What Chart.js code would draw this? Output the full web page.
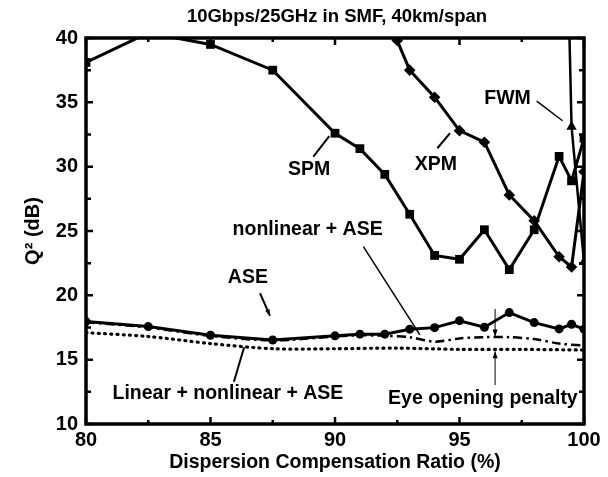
<!DOCTYPE html>
<html>
<head>
<meta charset="utf-8">
<title>Q2 vs dispersion compensation</title>
<script src="https://cdn.jsdelivr.net/npm/chart.js@4.4.1/dist/chart.umd.min.js"></script>
<style>
  html, body { margin: 0; padding: 0; background: #fff; }
  #wrap { width: 608px; height: 477px; }
</style>
</head>
<body>
<div id="wrap"><canvas id="q2Chart" width="608" height="477"></canvas></div>
<script>
// compensation ratio (%) for each simulated series
const spmRatio = [80, 82.5, 85, 87.5, 90, 91, 92, 93, 94, 95, 96, 97, 98, 99, 99.5, 100];
const spmQ2 = [38.1, 40.4, 39.5, 37.5, 32.6, 31.4, 29.4, 26.3, 23.1, 22.8, 25.1, 22.0, 25.1, 30.8, 28.9, 32.2];

const xpmRatio = [92.5, 93, 94, 95, 96, 97, 98, 99, 99.5, 100];
const xpmQ2 = [39.8, 37.5, 35.4, 32.8, 31.9, 27.8, 25.8, 23.0, 22.2, 29.6];

const fwmRatio = [99, 99.5, 100];
const fwmQ2 = [75, 33.1, 22.6];

const aseRatio = [80, 82.5, 85, 87.5, 90, 91, 92, 93, 94, 95, 96, 97, 98, 99, 99.5, 100];
const aseQ2 = [17.96, 17.57, 16.9, 16.53, 16.85, 16.98, 16.98, 17.37, 17.49, 18.03, 17.52, 18.66, 17.88, 17.39, 17.75, 17.37];

const nlAseRatio = [80, 82.5, 85, 87.5, 90, 91, 92, 93, 94, 95, 96, 97, 98, 99, 100];
const nlAseQ2 = [17.9, 17.5, 16.85, 16.5, 16.8, 16.9, 16.85, 16.75, 16.4, 16.65, 16.75, 16.75, 16.6, 16.25, 16.1];

const allRatio = [80, 82.5, 85, 87.5, 90, 92.5, 95, 97.5, 100];
const allQ2 = [17.1, 16.8, 16.25, 15.85, 15.85, 15.9, 15.8, 15.8, 15.75];

const xTickLabels = [80, 85, 90, 95, 100];
const yTickLabels = [10, 15, 20, 25, 30, 35, 40];

const FONT = '"Liberation Sans", Arial, sans-serif';

// callouts in data units: text position, then leader line from -> to
const callouts = [
  { text: 'SPM', at: [88.96, 29.74], from: [89.13, 30.78], to: [89.77, 32.38] },
  { text: 'XPM', at: [94.05, 30.13], from: [94.11, 31.43], to: [94.62, 32.6] },
  { text: 'FWM', at: [96.93, 35.26], from: [98.1, 35.1], to: [99.14, 33.57], thin: true },
  { text: 'nonlinear + ASE', at: [88.9, 25.08], from: [91.14, 23.78], to: [93.41, 16.92], thin: true },
  { text: 'ASE', at: [86.5, 21.39], from: [86.99, 20.16], to: [87.39, 18.4], arrow: true },
  { text: 'Linear + nonlinear + ASE', at: [85.7, 12.33], from: [85.94, 13.29], to: [86.35, 15.96] },
  { text: 'Eye opening penalty', at: [95.94, 11.94] }
];

const pairs = (xs, ys) => xs.map((x, i) => ({ x, y: ys[i] }));

const frameAndNotes = {
  id: 'frameAndNotes',
  afterDatasetsDraw(chart) {
    const { ctx, chartArea: a, scales: { x, y } } = chart;
    ctx.save();

    // minor/major ticks pointing inward on all four sides
    ctx.strokeStyle = '#000';
    ctx.lineWidth = 2.5;
    for (let v = 80; v <= 100; v += 2.5) {
      const px = x.getPixelForValue(v);
      const len = v % 5 === 0 ? 7 : 4;
      ctx.beginPath();
      ctx.moveTo(px, a.bottom); ctx.lineTo(px, a.bottom - len);
      ctx.moveTo(px, a.top); ctx.lineTo(px, a.top + len);
      ctx.stroke();
    }
    for (let v = 10; v <= 40; v += 2.5) {
      const py = y.getPixelForValue(v);
      const len = v % 5 === 0 ? 7 : 5;
      ctx.beginPath();
      ctx.moveTo(a.left, py); ctx.lineTo(a.left + len, py);
      ctx.moveTo(a.right, py); ctx.lineTo(a.right - len, py);
      ctx.stroke();
    }

    // plot frame
    ctx.lineWidth = 3.5;
    ctx.strokeRect(a.left, a.top, a.right - a.left, a.bottom - a.top);

    // callout labels and leader lines
    ctx.fillStyle = '#000';
    ctx.font = 'bold 19.5px ' + FONT;
    ctx.textAlign = 'center';
    ctx.textBaseline = 'middle';
    callouts.forEach(c => {
      ctx.fillText(c.text, x.getPixelForValue(c.at[0]), y.getPixelForValue(c.at[1]));
      if (!c.from) return;
      const x0 = x.getPixelForValue(c.from[0]), y0 = y.getPixelForValue(c.from[1]);
      const x1 = x.getPixelForValue(c.to[0]), y1 = y.getPixelForValue(c.to[1]);
      ctx.lineWidth = c.thin ? 1.5 : 2;
      ctx.beginPath();
      ctx.moveTo(x0, y0); ctx.lineTo(x1, y1);
      ctx.stroke();
      if (c.arrow) {
        const ang = Math.atan2(y1 - y0, x1 - x0);
        ctx.beginPath();
        ctx.moveTo(x1, y1);
        ctx.lineTo(x1 - 7 * Math.cos(ang - 0.35), y1 - 7 * Math.sin(ang - 0.35));
        ctx.lineTo(x1 - 7 * Math.cos(ang + 0.35), y1 - 7 * Math.sin(ang + 0.35));
        ctx.closePath();
        ctx.fill();
      }
    });

    // eye opening penalty marker between the dash-dot and dotted curves
    const ex = x.getPixelForValue(96.43);
    const eTop = y.getPixelForValue(18.94), eBot = y.getPixelForValue(13.03);
    const tipA = y.getPixelForValue(16.8), tipB = y.getPixelForValue(15.65);
    ctx.lineWidth = 1;
    ctx.beginPath();
    ctx.moveTo(ex, eTop); ctx.lineTo(ex, tipA);
    ctx.moveTo(ex, tipB); ctx.lineTo(ex, eBot);
    ctx.stroke();
    [[tipA, -1], [tipB, 1]].forEach(([ty, dir]) => {
      ctx.beginPath();
      ctx.moveTo(ex, ty);
      ctx.lineTo(ex - 2.5, ty + dir * 7);
      ctx.lineTo(ex + 2.5, ty + dir * 7);
      ctx.closePath();
      ctx.fill();
    });

    // chart heading
    ctx.font = 'bold 18.5px ' + FONT;
    ctx.fillText('10Gbps/25GHz in SMF, 40km/span', (a.left + a.right) / 2 + 2, 17);
    ctx.restore();
  }
};

const solid = (label, xs, ys, style, radius, width) => ({
  label,
  data: pairs(xs, ys),
  borderColor: '#000',
  backgroundColor: '#000',
  borderWidth: width,
  pointStyle: style,
  pointRadius: radius,
  pointBorderWidth: 0,
  tension: 0
});

new Chart(document.getElementById('q2Chart'), {
  type: 'line',
  data: {
    datasets: [
      solid('SPM', spmRatio, spmQ2, 'rect', 6.2, 3),
      solid('XPM', xpmRatio, xpmQ2, 'rectRot', 5.8, 3),
      solid('FWM', fwmRatio, fwmQ2, 'triangle', 6, 2.5),
      solid('ASE', aseRatio, aseQ2, 'circle', 4.5, 3),
      {
        label: 'nonlinear + ASE',
        data: pairs(nlAseRatio, nlAseQ2),
        borderColor: '#000',
        borderWidth: 2.5,
        borderDash: [9, 4, 2.5, 4],
        pointRadius: 0,
        tension: 0.3
      },
      {
        label: 'Linear + nonlinear + ASE',
        data: pairs(allRatio, allQ2),
        borderColor: '#000',
        borderWidth: 3.2,
        borderDash: [1, 5.2],
        borderCapStyle: 'round',
        pointRadius: 0,
        tension: 0.3
      }
    ]
  },
  options: {
    responsive: false,
    animation: false,
    layout: { padding: { top: 38, right: 24, left: 0, bottom: 0 } },
    plugins: { legend: { display: false }, tooltip: { enabled: false }, title: { display: false } },
    scales: {
      x: {
        type: 'linear',
        min: 80,
        max: 100,
        afterBuildTicks: s => { s.ticks = xTickLabels.map(v => ({ value: v })); },
        afterFit: s => { s.height = 53; },
        grid: { display: false, drawTicks: false },
        border: { display: false },
        ticks: { color: '#000', padding: 4, font: { family: FONT, size: 20, weight: 'bold' } },
        title: {
          display: true,
          text: 'Dispersion Compensation Ratio (%)',
          color: '#000',
          padding: { top: 0, bottom: 3 },
          font: { family: FONT, size: 19.5, weight: 'bold' }
        }
      },
      y: {
        min: 10,
        max: 40,
        afterBuildTicks: s => { s.ticks = yTickLabels.map(v => ({ value: v })); },
        afterFit: s => { s.width = 86; },
        grid: { display: false, drawTicks: false },
        border: { display: false },
        ticks: { color: '#000', padding: 8, font: { family: FONT, size: 20, weight: 'bold' } },
        title: {
          display: true,
          text: 'Q² (dB)',
          color: '#000',
          padding: { top: 21, bottom: 0 },
          font: { family: FONT, size: 20, weight: 'bold' }
        }
      }
    }
  },
  plugins: [frameAndNotes]
});
</script>
</body>
</html>
